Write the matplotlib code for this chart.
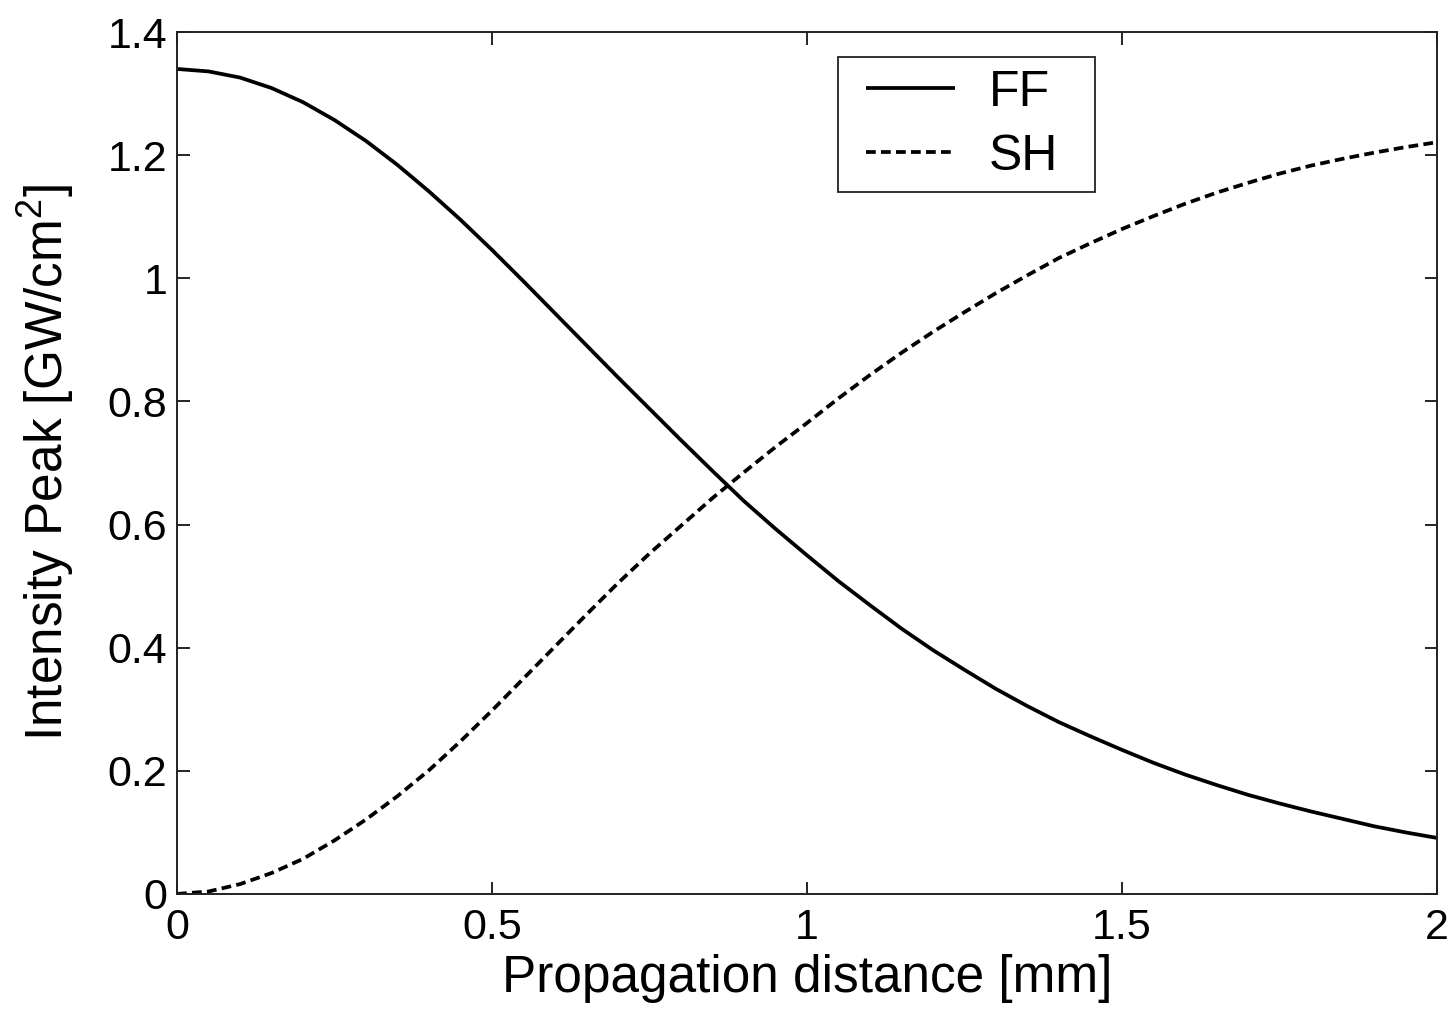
import matplotlib
matplotlib.use("Agg")
import matplotlib.pyplot as plt
from matplotlib.patches import Rectangle
from matplotlib.ticker import FuncFormatter

plt.rcParams['font.family'] = ['Liberation Sans', 'DejaVu Sans']
plt.rcParams['mathtext.fontset'] = 'custom'
plt.rcParams['mathtext.rm'] = 'Liberation Sans'

# propagation distance [mm]
z = [0.00, 0.05, 0.10, 0.15, 0.20, 0.25, 0.30, 0.35, 0.40, 0.45, 0.50,
     0.55, 0.60, 0.65, 0.70, 0.75, 0.80, 0.85, 0.90, 0.95, 1.00,
     1.05, 1.10, 1.15, 1.20, 1.25, 1.30, 1.35, 1.40, 1.45, 1.50,
     1.55, 1.60, 1.65, 1.70, 1.75, 1.80, 1.85, 1.90, 1.95, 2.00]
# fundamental frequency peak intensity [GW/cm^2]
ff = [1.340, 1.336, 1.326, 1.309, 1.286, 1.257, 1.223, 1.184, 1.141, 1.095, 1.046,
      0.995, 0.943, 0.891, 0.839, 0.788, 0.737, 0.687, 0.638, 0.593, 0.550,
      0.508, 0.469, 0.431, 0.396, 0.364, 0.333, 0.305, 0.279, 0.256, 0.234,
      0.213, 0.194, 0.177, 0.161, 0.147, 0.134, 0.122, 0.110, 0.100, 0.091]
# second harmonic peak intensity [GW/cm^2]
sh = [0.000, 0.004, 0.016, 0.034, 0.057, 0.087, 0.121, 0.159, 0.201, 0.248, 0.298,
      0.350, 0.402, 0.454, 0.505, 0.553, 0.598, 0.643, 0.685, 0.726, 0.765,
      0.805, 0.843, 0.879, 0.913, 0.945, 0.976, 1.005, 1.033, 1.057, 1.080,
      1.101, 1.121, 1.139, 1.155, 1.170, 1.183, 1.194, 1.204, 1.213, 1.221]

xticks = [0, 0.5, 1, 1.5, 2]
yticks = [0, 0.2, 0.4, 0.6, 0.8, 1.0, 1.2, 1.4]

fig = plt.figure(figsize=(14.55, 10.10), dpi=100)
ax = fig.add_axes([0.1217, 0.1149, 0.8659, 0.8534])

ax.plot(z, ff, color='black', lw=2.7, solid_capstyle='butt', label='FF')
ax.plot(z, sh, color='black', lw=2.7, linestyle=(0, (2.6, 1.4)), label='SH')

ax.set_xlim(0, 2)
ax.set_ylim(0, 1.4)
ax.set_xticks(xticks)
ax.set_yticks(yticks)
fmt = FuncFormatter(lambda v, p: '%g' % v)
ax.xaxis.set_major_formatter(fmt)
ax.yaxis.set_major_formatter(fmt)
ax.tick_params(direction='in', length=9, width=1.2, labelsize=31,
               top=True, right=True)
ax.tick_params(axis='x', pad=10)
ax.tick_params(axis='y', pad=7)
for s in ax.spines.values():
    s.set_linewidth(1.4)
    s.set_color('#222222')

ax.set_xlabel('Propagation distance [mm]', fontsize=37)
ax.set_ylabel(r'Intensity Peak [GW/cm$^2$]', fontsize=37)
ax.xaxis.set_label_coords(0.5, -0.070)
ax.yaxis.set_label_coords(-0.080, 0.5)

# legend box drawn like matlab's (wide side margins)
ax.add_patch(Rectangle((0.5246, 0.8144), 0.204, 0.1566, transform=ax.transAxes,
                       facecolor='white', edgecolor='#222222', lw=1.3, zorder=4))
leg = ax.legend(loc='upper left', bbox_to_anchor=(0.5468, 0.956), fontsize=36,
                frameon=False, handlelength=1.78, handletextpad=0.68,
                borderpad=0, labelspacing=0.36, borderaxespad=0)
leg.set_zorder(5)

fig.savefig('out.png', dpi=100)
